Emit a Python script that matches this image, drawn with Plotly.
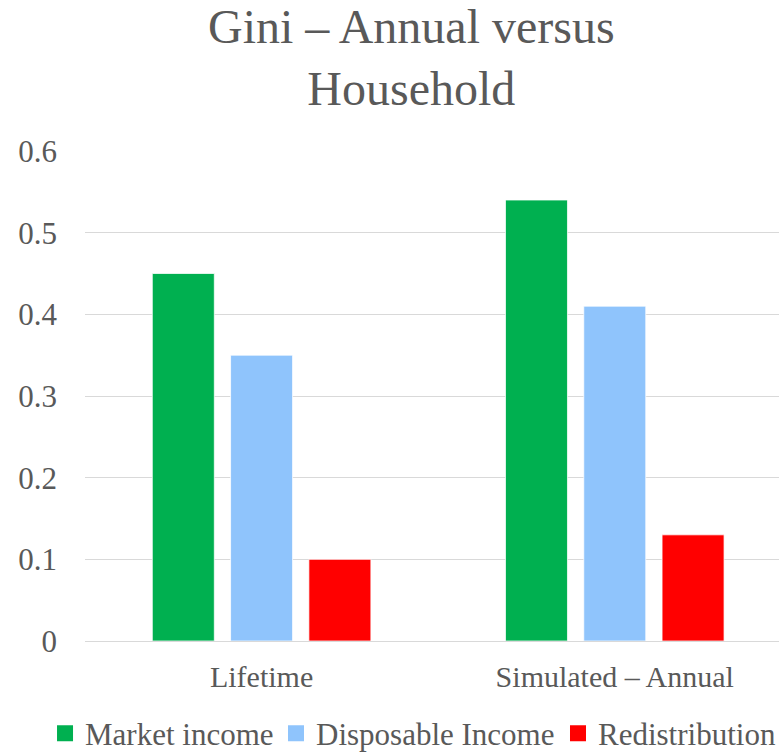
import plotly.graph_objects as go

# Gini coefficients by measurement basis
categories = ["Lifetime", "Simulated – Annual"]
series_names = ["Market income", "Disposable Income", "Redistribution"]
market_income = [0.45, 0.54]
disposable_income = [0.35, 0.41]
redistribution = [0.10, 0.13]
y_ticks = [0, 0.1, 0.2, 0.3, 0.4, 0.5, 0.6]
y_tick_text = ["0", "0.1", "0.2", "0.3", "0.4", "0.5", "0.6"]

colors = ["#00B050", "#8FC4FC", "#FF0000"]
values = [market_income, disposable_income, redistribution]
legend_ids = ["legend", "legend2", "legend3"]
legend_x = [0.0578, 0.3543, 0.7163]

FONT = "Liberation Serif"
TEXT = "#595959"

fig = go.Figure()

for name, vals, col in zip(series_names, values, colors):
    fig.add_trace(go.Bar(
        x=categories, y=vals, name=name,
        marker=dict(color=col, line=dict(color="white", width=0.75)),
        showlegend=False, legendgroup=name,
    ))

# square legend keys, one legend box per series so they sit on one row
for name, col, lid in zip(series_names, colors, legend_ids):
    fig.add_trace(go.Scatter(
        x=[None], y=[None], name=name, mode="markers",
        marker=dict(symbol="square", size=16, color=col),
        legendgroup=name, showlegend=True, legend=lid,
    ))

legend_style = dict(
    orientation="h", xref="container", yref="container",
    xanchor="left", y=0.027, yanchor="middle",
    font=dict(family=FONT, size=31, color=TEXT),
    bgcolor="rgba(0,0,0,0)",
)

fig.update_layout(
    width=779, height=754,
    margin=dict(l=85, r=0, t=151, b=113),
    paper_bgcolor="white", plot_bgcolor="white",
    barmode="group", bargap=0.335, bargroupgap=0.208,
    font=dict(family=FONT, color=TEXT),
    title=dict(
        text="Gini – Annual versus<br>Household",
        font=dict(family=FONT, size=48, color=TEXT),
        x=0.528, xref="container", xanchor="center",
        y=0.943, yref="container", yanchor="top",
    ),
    xaxis=dict(
        type="category", range=[-0.5, 1.465],
        showgrid=False, showline=False, zeroline=False,
        tickfont=dict(family=FONT, size=30, color=TEXT),
        ticks="", ticklabelstandoff=15,
    ),
    yaxis=dict(
        range=[0, 0.6], tickvals=y_ticks, ticktext=y_tick_text,
        showgrid=True, gridcolor="#D9D9D9", gridwidth=1.3,
        zeroline=True, zerolinecolor="#D9D9D9", zerolinewidth=1.3,
        showline=False, ticks="",
        tickfont=dict(family=FONT, size=31, color=TEXT),
        ticklabelstandoff=27,
    ),
    legend=dict(x=legend_x[0], **legend_style),
    legend2=dict(x=legend_x[1], **legend_style),
    legend3=dict(x=legend_x[2], **legend_style),
)

fig.write_html("out.html")
